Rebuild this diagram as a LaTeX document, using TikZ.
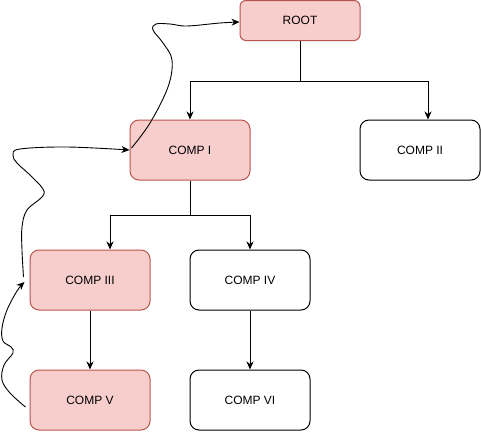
\documentclass[tikz,border=0pt]{standalone}
\usepackage{fontspec}
\setmainfont{Liberation Sans}
\usetikzlibrary{arrows.meta}
\definecolor{pinkfill}{HTML}{F8CECC}
\definecolor{pinkline}{HTML}{B85450}
\begin{document}
\begin{tikzpicture}[x=1pt,y=-1pt,
  box/.style={draw=black,line width=1pt,rounded corners=9pt,minimum width=120pt,minimum height=60pt,inner sep=0pt,font=\fontsize{12}{14}\selectfont,fill=white},
  pinkbox/.style={box,fill=pinkfill,draw=pinkline},
  arr/.style={draw=black,line width=1pt,-{Stealth[length=8pt,width=7pt,inset=2.5pt]}},
  curv/.style={arr,line width=0.9pt}]
\useasboundingbox (0,0) rectangle (481,431);
\node[pinkbox,minimum height=40pt,rounded corners=6pt] (root) at (300,20.5) {ROOT};
\node[pinkbox] (c1) at (190,150) {COMP I};
\node[box] (c2) at (420,150) {COMP II};
\node[pinkbox] (c3) at (90,280) {COMP III};
\node[box] (c4) at (250,280) {COMP IV};
\node[pinkbox] (c5) at (90,400) {COMP V};
\node[box] (c6) at (250,400) {COMP VI};
% tree connectors
\draw[arr] (root.south) -- ++(0,40) -| (c1.north);
\draw[arr] (root.south) -- ++(0,40) -| ([xshift=8pt]c2.north);
\draw[arr] (c1.south) -- ++(0,35) -| ([xshift=20pt]c3.north);
\draw[arr] (c1.south) -- ++(0,35) -| (c4.north);
\draw[arr] (c3.south) -- (c5.north);
\draw[arr] (c4.south) -- (c6.north);
% curved connectors
\coordinate (c5out) at ([xshift=-4pt,yshift=-7pt]c5.west);
\coordinate (c3in) at ([xshift=-5pt,yshift=-2pt]c3.west);
\coordinate (c3out) at ([xshift=-6pt,yshift=3pt]c3.west);
\coordinate (c1in) at (c1.west);
\coordinate (c1out) at ([xshift=2pt,yshift=2pt]c1.west);
\coordinate (rootin) at ([yshift=-1.5pt]root.west);
\draw[curv] plot[smooth,tension=0.6] coordinates {(c5out) (10,393) (2,380) (4,365) (13,353) (11,347) (3,341) (2,328) (7,310) (17,291) (c3in)};
\draw[curv] plot[smooth,tension=0.6] coordinates {(c3out) (22,250) (22,227) (27,210) (42,197) (43,189) (30,175) (17,163) (13,155) (20,149) (67,147) (c1in)};
\draw[curv] plot[smooth,tension=0.6] coordinates {(c1out) (150,123) (168,87) (172,60) (163,43) (153,30) (156,24) (170,24) (187,26) (220,23) (rootin)};
\end{tikzpicture}
\end{document}
